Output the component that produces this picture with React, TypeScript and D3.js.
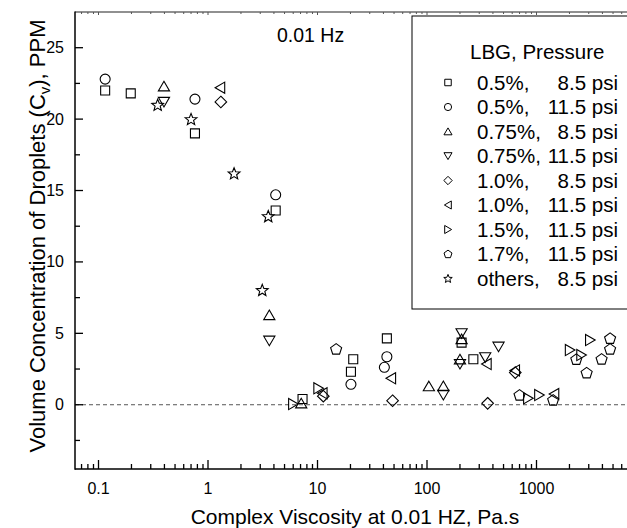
import React from 'react';
import * as d3 from 'd3';

const W = 627;
const H = 528;

// axis domains
const X_DOMAIN: [number, number] = [0.061, 7935];
const Y_DOMAIN: [number, number] = [-4.5, 27.5];
const yMajorTicks = [0, 5, 10, 15, 20, 25];
const yMinorTicks = [-2.5, 2.5, 7.5, 12.5, 17.5, 22.5];
const xMajorLabels = ['0.1', '1', '10', '100', '1000'];

// series data: [complex viscosity, concentration]
const lbg05_85: [number, number][] = [
  [0.115, 22.0], [0.197, 21.8], [0.76, 19.0], [4.15, 13.6], [7.3, 0.4],
  [21.2, 3.18], [20.2, 2.31], [43, 4.65], [207, 4.35], [265, 3.18],
];
const lbg05_115: [number, number][] = [
  [0.115, 22.8], [0.76, 21.4], [4.15, 14.7], [20.2, 1.43], [43, 3.36], [40.8, 2.62],
];
const lbg075_85: [number, number][] = [
  [0.396, 22.3], [3.63, 6.28], [7.1, 0.1], [104, 1.3], [141, 1.31], [200, 3.18], [207, 4.6],
];
const lbg075_115: [number, number][] = [
  [0.396, 21.2], [3.63, 4.48], [141, 0.68], [200, 2.85], [207, 5.0], [340, 3.32], [450, 4.06],
];
const lbg10_85: [number, number][] = [
  [1.31, 21.2], [11.3, 0.6], [48.5, 0.28], [358, 0.1], [640, 2.25],
];
const lbg10_115: [number, number][] = [
  [1.29, 22.2], [11.1, 0.8], [46.9, 1.85], [350, 2.85], [635, 2.4], [1450, 0.75],
];
const lbg15_115: [number, number][] = [
  [6.0, 0.05], [10.2, 1.15], [840, 0.45], [1060, 0.68], [2020, 3.83], [2570, 3.48], [3090, 4.53],
];
const lbg17_115: [number, number][] = [
  [14.8, 3.9], [700, 0.68], [1420, 0.33], [2310, 3.18], [2870, 2.24], [3930, 3.2], [4700, 4.65], [4700, 3.9],
];
const others_85: [number, number][] = [
  [0.347, 21.0], [0.70, 20.0], [1.73, 16.2], [3.55, 13.2], [3.13, 8.03],
];

const seriesLabels = ['0.5%,', '0.5%,', '0.75%,', '0.75%,', '1.0%,', '1.0%,', '1.5%,', '1.7%,', 'others,'];
const seriesPressures = ['8.5 psi', '11.5 psi', '8.5 psi', '11.5 psi', '8.5 psi', '11.5 psi', '11.5 psi', '11.5 psi', '8.5 psi'];
const seriesShapes = ['square', 'circle', 'triUp', 'triDown', 'diamond', 'triLeft', 'triRight', 'pentagon', 'star'];
const seriesData = [lbg05_85, lbg05_115, lbg075_85, lbg075_115, lbg10_85, lbg10_115, lbg15_115, lbg17_115, others_85];

function shapePath(shape: string, k: number): string {
  const p = (pts: number[][]) => 'M' + pts.map((q) => `${q[0] * k},${q[1] * k}`).join('L') + 'Z';
  switch (shape) {
    case 'square':
      return p([[-4.5, -4.5], [4.5, -4.5], [4.5, 4.5], [-4.5, 4.5]]);
    case 'circle': {
      const r = 5 * k;
      return `M${-r},0A${r},${r} 0 1,0 ${r},0A${r},${r} 0 1,0 ${-r},0Z`;
    }
    case 'triUp':
      return p([[0, -5], [5.6, 4.6], [-5.6, 4.6]]);
    case 'triDown':
      return p([[0, 5], [5.6, -4.6], [-5.6, -4.6]]);
    case 'triLeft':
      return p([[-5, 0], [4.6, -5.6], [4.6, 5.6]]);
    case 'triRight':
      return p([[5, 0], [-4.6, -5.6], [-4.6, 5.6]]);
    case 'diamond':
      return p([[0, -5.8], [5.8, 0], [0, 5.8], [-5.8, 0]]);
    case 'pentagon': {
      const pts: number[][] = [];
      for (let i = 0; i < 5; i++) {
        const a = -Math.PI / 2 + (i * 2 * Math.PI) / 5;
        pts.push([5.8 * Math.cos(a), 5.8 * Math.sin(a) + 0.4]);
      }
      return p(pts);
    }
    case 'star': {
      const pts: number[][] = [];
      for (let i = 0; i < 10; i++) {
        const a = -Math.PI / 2 + (i * Math.PI) / 5;
        const r = i % 2 === 0 ? 6.2 : 2.7;
        pts.push([r * Math.cos(a), r * Math.sin(a) + 0.5]);
      }
      return p(pts);
    }
  }
  return '';
}

export default function App() {
  const left = 75, right = 635, top = 12, bottom = 469;
  const x = d3.scaleLog().domain(X_DOMAIN).range([left, right]);
  const y = d3.scaleLinear().domain(Y_DOMAIN).range([bottom, top]);
  const font = "'Liberation Sans', Arial, sans-serif";

  const xTicks = x.ticks().filter((v) => v >= X_DOMAIN[0] && v <= X_DOMAIN[1]);
  const isMajor = (v: number) => Math.abs(Math.log10(v) - Math.round(Math.log10(v))) < 1e-9;
  const majors = xTicks.filter(isMajor);

  const legX = 412, legTop = 16, legBottom = 309;
  const rowY0 = 82.5, rowDy = 24.5;

  return (
    <svg width={W} height={H} style={{ position: 'absolute', left: 0, top: 0, background: '#fff' }} fontFamily={font}>
      <rect x={0} y={0} width={W} height={H} fill="#fff" />
      {/* zero dashed line */}
      <line x1={left} x2={W} y1={y(0)} y2={y(0)} stroke="#555" strokeWidth={1} strokeDasharray="4,3" />
      {/* top axis */}
      <line x1={left} x2={W} y1={top} y2={top} stroke="#222" strokeWidth={1.2} />
      {xTicks.map((v, i) => (
        <line key={'tt' + i} x1={x(v)} x2={x(v)} y1={top} y2={top + (isMajor(v) ? 3 : 2)} stroke="#555" strokeWidth={1} />
      ))}
      {/* left axis */}
      <line x1={left} x2={left} y1={top - 0.5} y2={bottom + 0.75} stroke="#000" strokeWidth={1.5} />
      {yMajorTicks.map((v) => (
        <g key={'ym' + v}>
          <line x1={left} x2={left + 8} y1={y(v)} y2={y(v)} stroke="#000" strokeWidth={1.3} />
          <text x={left - 11} y={y(v) + 5.5} fontSize={16} textAnchor="end">{v}</text>
        </g>
      ))}
      {yMinorTicks.map((v) => (
        <line key={'yn' + v} x1={left} x2={left + 5} y1={y(v)} y2={y(v)} stroke="#000" strokeWidth={1.3} />
      ))}
      {/* bottom axis */}
      <line x1={left} x2={W} y1={bottom} y2={bottom} stroke="#000" strokeWidth={1.5} />
      {xTicks.map((v, i) => (
        <line key={'bt' + i} x1={x(v)} x2={x(v)} y1={bottom} y2={bottom - (isMajor(v) ? 9 : 5)} stroke="#000" strokeWidth={1.3} />
      ))}
      {majors.map((v, i) => (
        <text key={'xl' + i} x={x(v)} y={bottom + 25} fontSize={16} textAnchor="middle">{xMajorLabels[i]}</text>
      ))}
      {/* axis titles */}
      <text x={(left + right) / 2} y={524} fontSize={21} textAnchor="middle">Complex Viscosity at 0.01 HZ, Pa.s</text>
      <text transform="translate(45,236) rotate(-90)" fontSize={22} textAnchor="middle">
        Volume Concentration of Droplets (C<tspan fontSize={15} dy={5}>v</tspan><tspan dy={-5}>), PPM</tspan>
      </text>
      {/* frequency annotation */}
      <text x={277} y={42} fontSize={19.5}>0.01 Hz</text>
      {/* data markers */}
      {seriesData.map((data, si) => (
        <g key={'s' + si}>
          {data.map((d, j) => (
            <path key={j} d={shapePath(seriesShapes[si], 1)} transform={`translate(${x(d[0])},${y(d[1])})`}
              fill="none" stroke="#000" strokeWidth={1.1} />
          ))}
        </g>
      ))}
      {/* legend */}
      <rect x={legX} y={legTop} width={W} height={legBottom - legTop} fill="#fff" stroke="#000" strokeWidth={1} />
      <text x={470} y={59} fontSize={20.5}>LBG, Pressure</text>
      {seriesLabels.map((lab, i) => {
        const cy = rowY0 + i * rowDy;
        return (
          <g key={'lg' + i}>
            <path d={shapePath(seriesShapes[i], 0.72)} transform={`translate(448,${cy})`} fill="none" stroke="#000" strokeWidth={1} />
            <text x={477} y={cy + 7} fontSize={20.5}>{lab}</text>
            <text x={618} y={cy + 7} fontSize={20.5} textAnchor="end">{seriesPressures[i]}</text>
          </g>
        );
      })}
    </svg>
  );
}
